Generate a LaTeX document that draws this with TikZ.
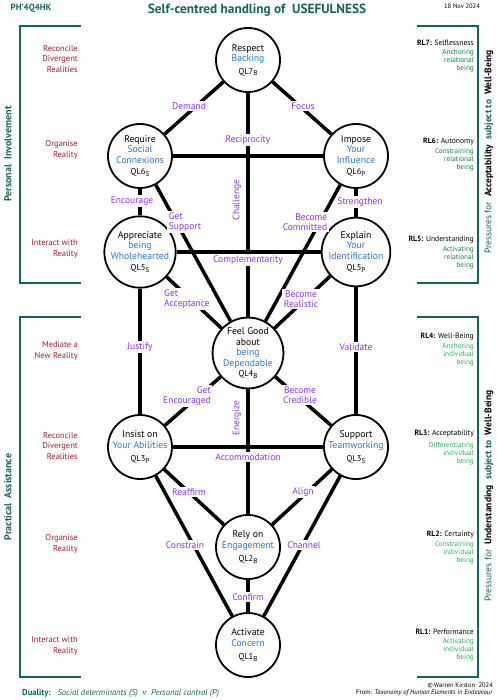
\documentclass[tikz,border=0pt]{standalone}
\usepackage{fontspec}
\setmainfont{PT Sans}
\definecolor{tealc}{RGB}{22,100,95}
\definecolor{redc}{RGB}{165,30,45}
\definecolor{purp}{RGB}{150,50,230}
\definecolor{qblue}{RGB}{40,120,210}
\definecolor{dgreen}{RGB}{20,130,70}
\definecolor{bgreen}{RGB}{40,180,75}
\newcommand\qls[2]{{\fontsize{8.5}{9}\selectfont #1\raisebox{-0.4ex}{\fontsize{7}{7}\selectfont #2}}}
\newcommand\bl[1]{\textcolor{qblue}{#1}}
\begin{document}
\begin{tikzpicture}[x=1pt,y=-1pt,
  ql/.style={circle,draw,line width=1.8pt,minimum size=64pt,inner sep=0pt,fill=white,align=center,font=\fontsize{9.7}{10.5}\selectfont},
  edge/.style={line width=3.5pt},
  lbl/.style={fill=white,text=purp,font=\fontsize{9.5}{10.5}\selectfont,inner sep=1.5pt,align=center},
  rlbl/.style={text=purp,font=\fontsize{9.5}{10.5}\selectfont,inner sep=0pt,rotate=90},
  brk/.style={draw=tealc,line width=1.8pt},
  lev/.style={text=redc,font=\fontsize{8.5}{10.5}\selectfont,align=right,anchor=east,inner sep=0pt},
  rl/.style={font=\fontsize{7.6}{8}\selectfont,anchor=east,inner sep=0pt},
  rlg/.style={font=\fontsize{7.2}{8}\selectfont,align=right,anchor=north east,inner sep=0pt}
]
\useasboundingbox (0,0) rectangle (496,700);

% header
\node[text=tealc,font=\fontsize{9}{10}\selectfont\bfseries] (code) at (31,8) {PH'4Q4HK};
\node[text=tealc,font=\fontsize{13.3}{15}\selectfont\bfseries] (title) at (257,10) {Self-centred handling of\ \ USEFULNESS};
\node[font=\fontsize{6.5}{7}\selectfont] (date) at (462,6) {18 Nov 2024};

% brackets
\draw[brk] (81,26) -- (20,26) -- (20,283) -- (81,283);
\draw[brk] (81,317) -- (20,317) -- (20,677) -- (81,677);
\draw[brk] (417,26) -- (478,26) -- (478,283) -- (417,283);
\draw[brk] (417,317) -- (478,317) -- (478,677) -- (417,677);

\node[rotate=90,text=tealc,font=\fontsize{10}{11}\selectfont\bfseries] (pi) at (8,154) {Personal\ \ Involvement};
\node[rotate=90,text=tealc,font=\fontsize{10}{11}\selectfont\bfseries] (pa) at (8,497) {Practical\ \ Assistance};
\node[rotate=90,font=\fontsize{9.5}{11}\selectfont] (pacc) at (489,152) {\textcolor{tealc}{Pressures for}\ \ \textbf{Acceptability}\ \ \textcolor{tealc}{\textbf{subject to}}\ \ \textbf{Well-Being}};
\node[rotate=90,font=\fontsize{9.5}{11}\selectfont] (pund) at (489,496) {\textcolor{tealc}{Pressures for}\ \ \textbf{Understanding}\ \ \textcolor{tealc}{\textbf{subject to}}\ \ \textbf{Well-Being}};

% left level labels
\node[lev] (l7) at (78,59) {Reconcile\\Divergent\\Realities};
\node[lev] (l6) at (78,150) {Organise\\Reality};
\node[lev] (l5) at (78,249) {Interact with\\Reality};
\node[lev] (l4) at (78,351) {Mediate a\\New Reality};
\node[lev] (l3) at (78,446) {Reconcile\\Divergent\\Realities};
\node[lev] (l2) at (78,544) {Organise\\Reality};
\node[lev] (l1) at (78,646) {Interact with\\Reality};

% right RL labels
\node[rl] (rl7) at (474,43) {\textbf{RL7:} Selflessness};
\node[rlg,text=dgreen] (g7) at (474,49) {Anchoring\\relational\\being};
\node[rl] (rl6) at (474,142) {\textbf{RL6:} Autonomy};
\node[rlg,text=dgreen] (g6) at (474,148) {Constraining\\relational\\being};
\node[rl] (rl5) at (474,240) {\textbf{RL5:} Understanding};
\node[rlg,text=dgreen] (g5) at (474,246) {Activating\\relational\\being};
\node[rl] (rl4) at (474,337) {\textbf{RL4:} Well-Being};
\node[rlg,text=bgreen] (g4) at (474,343) {Anchoring\\individual\\being};
\node[rl] (rl3) at (474,434) {\textbf{RL3:} Acceptability};
\node[rlg,text=bgreen] (g3) at (474,442) {Differentiating\\individual\\being};
\node[rl] (rl2) at (474,535) {\textbf{RL2:} Certainty};
\node[rlg,text=bgreen] (g2) at (474,541) {Constraining\\individual\\being};
\node[rl] (rl1) at (474,632) {\textbf{RL1:} Performance};
\node[rlg,text=bgreen] (g1) at (474,638) {Activating\\individual\\being};

% nodes
\node[ql] (r7) at (248,60) {Respect\\\bl{Backing}\\[2pt]\qls{QL7}{B}};
\node[ql] (r6s) at (140,156) {Require\\\bl{Social}\\\bl{Connexions}\\[1pt]\qls{QL6}{S}};
\node[ql] (r6p) at (356,156) {Impose\\\bl{Your}\\\bl{Influence}\\[1pt]\qls{QL6}{P}};
\node[ql] (r5s) at (140,252) {Appreciate\\\bl{being}\\\bl{Wholehearted}\\[1pt]\qls{QL5}{S}};
\node[ql] (r5p) at (356,252) {Explain\\\bl{Your}\\\bl{Identification}\\[1pt]\qls{QL5}{P}};
\node[ql] (r4) at (248,353) {Feel Good\\about\\\bl{being}\\\bl{Dependable}\\\qls{QL4}{B}};
\node[ql] (r3p) at (140,447) {Insist on\\\bl{Your Abilities}\\[3pt]\qls{QL3}{P}};
\node[ql] (r3s) at (356,447) {Support\\\bl{Teamworking}\\[3pt]\qls{QL3}{S}};
\node[ql] (r2) at (248,547) {Rely on\\\bl{Engagement}\\[3pt]\qls{QL2}{B}};
\node[ql] (r1) at (248,645) {Activate\\\bl{Concern}\\[3pt]\qls{QL1}{B}};

% connectors
\draw[edge] (r7) -- (r6s);
\draw[edge] (r7) -- (r6p);
\draw[edge] (r7) -- (r4);
\draw[edge] (r6s) -- (r6p);
\draw[edge] (r6s) -- (r5s);
\draw[edge] (r6s) -- (r4);
\draw[edge] (r6p) -- (r5p);
\draw[edge] (r6p) -- (r4);
\draw[edge] (r5s) -- (r5p);
\draw[edge] (r5s) -- (r4);
\draw[edge] (r5p) -- (r4);
\draw[edge] (r5s) -- (r3p);
\draw[edge] (r5p) -- (r3s);
\draw[edge] (r4) -- (r3p);
\draw[edge] (r4) -- (r3s);
\draw[edge] (r4) -- (r2);
\draw[edge] (r3p) -- (r3s);
\draw[edge] (r3p) -- (r2);
\draw[edge] (r3s) -- (r2);
\draw[edge] (r3p) -- (r1);
\draw[edge] (r3s) -- (r1);
\draw[edge] (r2) -- (r1);

% connector labels
\node[lbl] (eDemand) at (189,106) {Demand};
\node[lbl] (eFocus) at (303,106) {Focus};
\node[lbl] (eRecip) at (248,140) {Reciprocity};
\node[rlbl] (eChall) at (237,200) {Challenge};
\node[lbl] (eEnc) at (132,201) {Encourage};
\node[lbl,align=left] (eGetSup) at (185,222) {Get\\Support};
\node[lbl,align=right] (eBecCom) at (305,222) {Become\\Committed};
\node[lbl] (eStr) at (360,202) {Strengthen};
\node[lbl] (eComp) at (248,260) {Complementarity};
\node[lbl,align=left] (eGetAcc) at (187,299) {Get\\Acceptance};
\node[lbl] (eBecReal) at (301,299) {Become\\Realistic};
\node[lbl] (eJust) at (140,347) {Justify};
\node[lbl] (eVal) at (356,347) {Validate};
\node[lbl,align=right] (eGetEnc) at (187,396) {Get\\Encouraged};
\node[lbl] (eBecCred) at (300,395) {Become\\Credible};
\node[rlbl] (eEner) at (237,418) {Energize};
\node[lbl] (eAcc) at (248,457) {Accommodation};
\node[lbl] (eReaf) at (189,492) {Reaffirm};
\node[lbl] (eAlign) at (303,492) {Align};
\node[lbl] (eConstr) at (185,545) {Constrain};
\node[lbl] (eChan) at (304,545) {Channel};
\node[lbl] (eConf) at (248,597) {Confirm};

% footer
\node[anchor=west,inner sep=0pt,text=tealc,font=\fontsize{8.6}{9}\selectfont] (dual) at (22,693) {\textbf{Duality:}\ \ \ \textit{Social determinants (S)\ \ v\ \ Personal control (P)}};
\node[anchor=east,inner sep=0pt,font=\fontsize{6.5}{7}\selectfont] (copy) at (493,685) {\textcopyright\,Warren Kirston\ \ 2024};
\node[anchor=east,inner sep=0pt,font=\fontsize{6.6}{7}\selectfont] (from) at (493,693) {From: \textit{Taxonomy of Human Elements in Endeavour}};
\end{tikzpicture}
\end{document}
